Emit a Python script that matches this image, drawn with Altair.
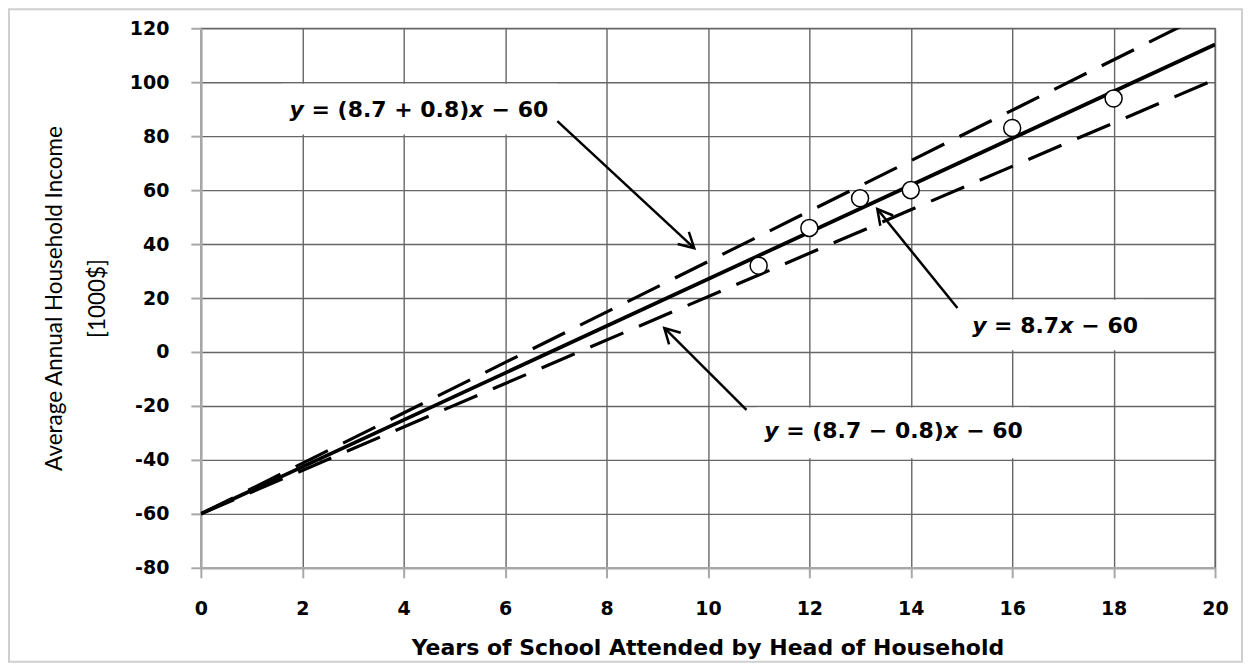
import altair as alt
import pandas as pd

# ---- data ----
years = [11, 12, 13, 14, 16, 18]
income = [32, 46, 57, 60, 83, 94]

line_x = [0, 20]
fit_y = [-60, 114]      # y = 8.7x - 60
upper_y = [-60, 127]    # y = (8.7 + 0.8)x - 60 (as drawn)
lower_y = [-60, 101]    # y = (8.7 - 0.8)x - 60 (as drawn)

x_ticks = [0, 2, 4, 6, 8, 10, 12, 14, 16, 18, 20]
y_ticks = [-80, -60, -40, -20, 0, 20, 40, 60, 80, 100, 120]

# annotation labels split in pieces: (text, italic, space before piece)
label_segments = [
    [("y", True, False), ("= (8.7 + 0.8)", False, True), ("x", True, False), ("\u2212 60", False, True)],
    [("y", True, False), ("= 8.7", False, True), ("x", True, False), ("\u2212 60", False, True)],
    [("y", True, False), ("= (8.7 \u2212 0.8)", False, True), ("x", True, False), ("\u2212 60", False, True)],
]
label_x = [1.75, 15.21, 11.11]
label_y = [87.0, 7.0, -31.8]

box_x = [1.6, 15.05, 10.96]
box_x2 = [7.03, 18.6, 16.35]
box_y = [80.6, 0.6, -39.4]
box_y2 = [99.4, 19.4, -20.6]

arrow_x = [7.03, 14.92, 10.76]
arrow_y = [85.6, 16.3, -21.5]
arrow_x2 = [9.73, 13.34, 9.14]
arrow_y2 = [38.5, 53.0, 8.9]
arrow_angle = [42.8, 231.1, 225.0]

# ---- styling ----
GRID = "#666666"
AXC = "#a8a8a8"
FONT = "DejaVu Sans"
LABEL_SIZE = 22

xscale = alt.Scale(domain=[0, 20], nice=False, zero=False)
yscale = alt.Scale(domain=[-80, 120], nice=False, zero=False)

xaxis = alt.Axis(
    values=x_ticks, grid=True, gridColor=GRID, gridWidth=1.4,
    domainColor=AXC, domainWidth=2.5, tickColor=AXC, tickWidth=2, tickSize=10,
    labelFont=FONT, labelFontWeight="bold", labelFontSize=19, labelColor="black",
    labelPadding=22, labelExpr="'' + datum.value", labelFlush=False, labelOverlap=False,
    title="Years of School Attended by Head of Household",
    titleFont=FONT, titleFontWeight="bold", titleFontSize=22, titleColor="black",
    titleX=507, titleY=87, titleBaseline="alphabetic", titleAlign="center",
)
yaxis = alt.Axis(
    values=y_ticks, grid=True, gridColor=GRID, gridWidth=1.4,
    domainColor=AXC, domainWidth=2.5, tickColor=AXC, tickWidth=2, tickSize=10,
    labelFont=FONT, labelFontWeight="bold", labelFontSize=19, labelColor="black",
    labelPadding=22, labelExpr="'' + datum.value", labelFlush=False, labelOverlap=False,
    title=["Average Annual Household Income", "[1000$]"],
    titleFont="Lato", titleFontWeight="normal", titleFontSize=22.5, titleColor="black",
    titleLineHeight=43, titleX=-139, titleY=270, titleAngle=270,
    titleAlign="center", titleBaseline="alphabetic",
)


def X(field="x"):
    return alt.X(f"{field}:Q", scale=xscale, axis=xaxis)


def Y(field="y"):
    return alt.Y(f"{field}:Q", scale=yscale, axis=yaxis)


# frame around the whole figure (decoration)
frame = alt.Chart(pd.DataFrame({"a": [0]})).mark_rect(
    fillOpacity=0, stroke="#cfcfcf", strokeWidth=2
).encode(x=alt.value(-192), x2=alt.value(1042), y=alt.value(-19), y2=alt.value(634))

boxes_df = pd.DataFrame({"x": box_x, "x2": box_x2, "y": box_y, "y2": box_y2})
boxes = alt.Chart(boxes_df).mark_rect(color="white").encode(
    x=X(), x2="x2:Q", y=Y(), y2="y2:Q"
)

fit_df = pd.DataFrame({"x": line_x, "y": fit_y})
fit = alt.Chart(fit_df).mark_line(color="black", strokeWidth=3.8, clip=True).encode(x=X(), y=Y())

band_df = pd.DataFrame({
    "x": line_x + line_x,
    "y": upper_y + lower_y,
    "s": ["upper"] * 2 + ["lower"] * 2,
})
band = alt.Chart(band_df).mark_line(
    color="black", strokeWidth=3.2, strokeDash=[36, 17], clip=True
).encode(x=X(), y=Y(), detail="s:N")

pts_df = pd.DataFrame({"x": years, "y": income})
pts = alt.Chart(pts_df).mark_point(
    shape="circle", filled=True, fill="white", stroke="black", strokeWidth=1.5,
    size=290, opacity=1
).encode(x=X(), y=Y())

arr_df = pd.DataFrame({"x": arrow_x, "y": arrow_y, "x2": arrow_x2, "y2": arrow_y2,
                       "tx": arrow_x2, "ty": arrow_y2, "ang": arrow_angle})
shafts = alt.Chart(arr_df).mark_rule(color="black", strokeWidth=2.5).encode(
    x=X(), y=Y(), x2="x2:Q", y2="y2:Q"
)
heads = alt.Chart(arr_df).mark_point(
    shape="M -1 -0.55 L 0 0 L -1 0.55", filled=False, stroke="black",
    strokeWidth=2.5, size=900, opacity=1
).encode(x=X("tx"), y=Y("ty"), angle=alt.Angle("ang:Q", scale=None))

# approximate DejaVu Sans Bold advance widths (em) for laying out the label pieces
ADV = {" ": 0.348, "=": 0.838, "+": 0.838, "\u2212": 0.838, "(": 0.457, ")": 0.457,
       ".": 0.380, "x": 0.663, "y": 0.652}
SPACE = 0.348 * LABEL_SIZE


def text_width(s):
    return sum(ADV.get(c, 0.696) for c in s) * LABEL_SIZE


texts = []
for i, segs in enumerate(label_segments):
    df = pd.DataFrame({"x": [label_x[i]], "y": [label_y[i]]})
    offset = 0.0
    for txt, italic, space_before in segs:
        if space_before:
            offset += SPACE
        t = alt.Chart(df).mark_text(
            text=txt, align="left", baseline="alphabetic", dx=offset,
            font=FONT, fontWeight="bold", fontStyle="italic" if italic else "normal",
            fontSize=LABEL_SIZE, color="black"
        ).encode(x=X(), y=Y())
        texts.append(t)
        offset += text_width(txt)

chart = alt.layer(frame, boxes, fit, band, pts, shafts, heads, *texts).properties(
    width=1015, height=540,
    autosize=alt.AutoSizeParams(type="none"),
    padding={"left": 193, "top": 20, "right": 30, "bottom": 96},
    background="white",
).configure_view(stroke=GRID, strokeWidth=1.4)

chart.save("out.html", embed_options={"renderer": "svg", "actions": False})
